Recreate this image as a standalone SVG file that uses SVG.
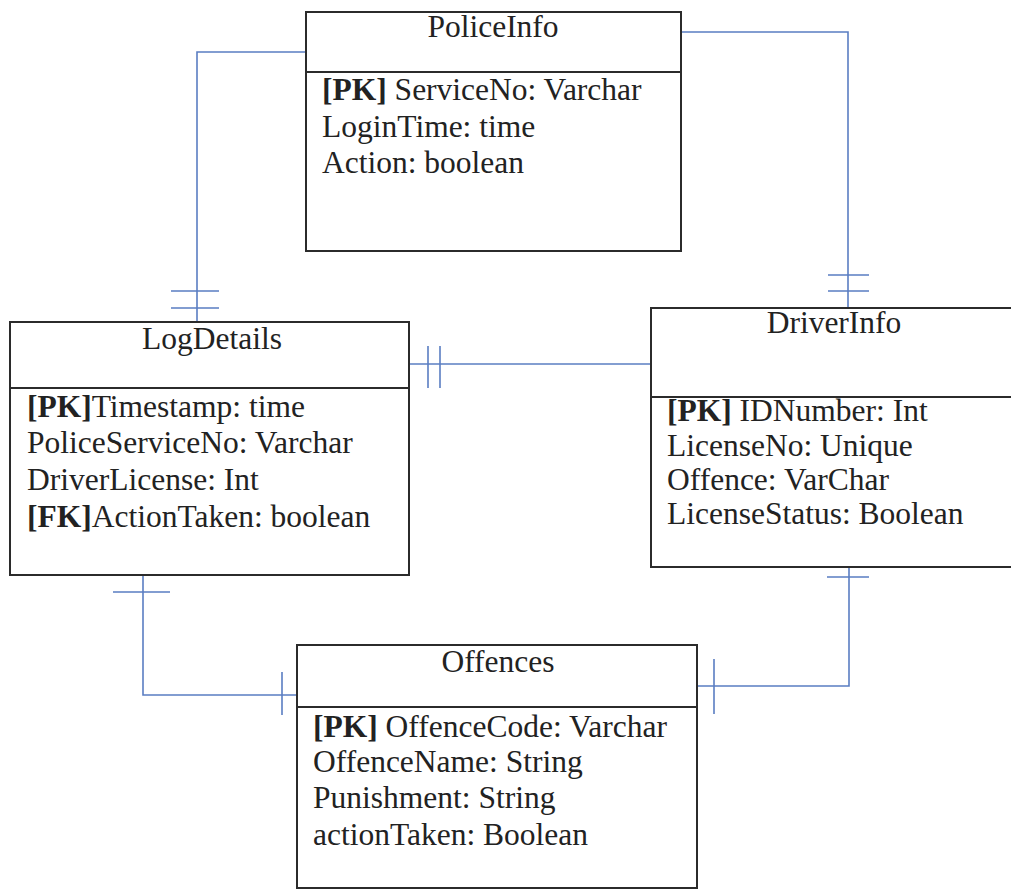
<svg xmlns="http://www.w3.org/2000/svg" width="1011" height="890" viewBox="0 0 1011 890">
  <style>
    .box { fill: #ffffff; stroke: #2b2b2b; stroke-width: 2; }
    .sep { stroke: #2b2b2b; stroke-width: 2; }
    text { font-family: "Liberation Serif", serif; font-size: 31.5px; fill: #222222; }
    .title { text-anchor: middle; }
    .key { font-weight: bold; }
    .link { fill: none; stroke: #5a7ec2; stroke-width: 1.6; }
  </style>
  <rect width="1011" height="890" fill="#ffffff"/>

  <!-- relationships -->
  <g id="connectors">
    <!-- PoliceInfo to LogDetails -->
    <path class="link" d="M306 52 H197 V322"/>
    <path class="link" d="M171 291 H219 M171 308 H219"/>
    <!-- PoliceInfo to DriverInfo -->
    <path class="link" d="M681 32 H848 V308"/>
    <path class="link" d="M828 275 H869 M828 291 H869"/>
    <!-- LogDetails to DriverInfo -->
    <path class="link" d="M409 364 H651"/>
    <path class="link" d="M428 346 V388 M440 346 V388"/>
    <!-- LogDetails to Offences -->
    <path class="link" d="M143 575 V695 H297"/>
    <path class="link" d="M113 592 H170 M282 672 V715"/>
    <!-- DriverInfo to Offences -->
    <path class="link" d="M849 567 V686 H697"/>
    <path class="link" d="M827 577 H869 M714 659 V714"/>
  </g>

  <g id="PoliceInfo">
    <rect class="box" x="306" y="12" width="375" height="239"/>
    <line class="sep" x1="306" y1="72" x2="681" y2="72"/>
    <text class="title" x="493" y="37">PoliceInfo</text>
    <text x="322" y="100"><tspan class="key">[PK]</tspan> ServiceNo: Varchar</text>
    <text x="322" y="137">LoginTime: time</text>
    <text x="322" y="173">Action: boolean</text>
  </g>

  <g id="LogDetails">
    <rect class="box" x="10" y="322" width="399" height="253"/>
    <line class="sep" x1="10" y1="388" x2="409" y2="388"/>
    <text class="title" x="212" y="349">LogDetails</text>
    <text x="27" y="417"><tspan class="key">[PK]</tspan>Timestamp: time</text>
    <text x="27" y="453">PoliceServiceNo: Varchar</text>
    <text x="27" y="490">DriverLicense: Int</text>
    <text x="27" y="527"><tspan class="key">[FK]</tspan>ActionTaken: boolean</text>
  </g>

  <g id="DriverInfo">
    <rect class="box" x="651" y="308" width="370" height="259"/>
    <line class="sep" x1="651" y1="397" x2="1021" y2="397"/>
    <text class="title" x="834" y="333">DriverInfo</text>
    <text x="667" y="421"><tspan class="key">[PK]</tspan> IDNumber: Int</text>
    <text x="667" y="456">LicenseNo: Unique</text>
    <text x="667" y="490">Offence: VarChar</text>
    <text x="667" y="524">LicenseStatus: Boolean</text>
  </g>

  <g id="Offences">
    <rect class="box" x="297" y="645" width="400" height="243"/>
    <line class="sep" x1="297" y1="707" x2="697" y2="707"/>
    <text class="title" x="498" y="672">Offences</text>
    <text x="313" y="737"><tspan class="key">[PK]</tspan> OffenceCode: Varchar</text>
    <text x="313" y="772">OffenceName: String</text>
    <text x="313" y="808">Punishment: String</text>
    <text x="313" y="845">actionTaken: Boolean</text>
  </g>
</svg>
